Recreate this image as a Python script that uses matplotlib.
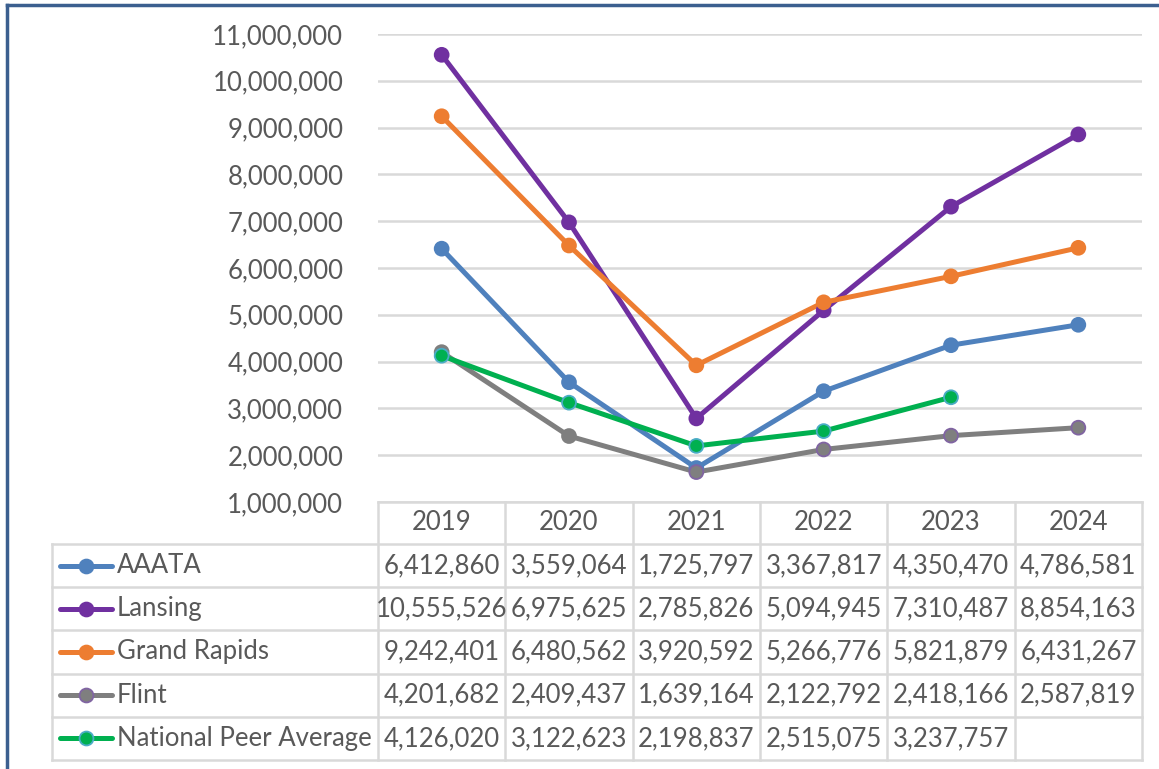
import numpy as np
import matplotlib.pyplot as plt
from matplotlib.transforms import blended_transform_factory
from matplotlib.ticker import FuncFormatter

plt.rcParams['font.family'] = ['Lato', 'DejaVu Sans']

years = ['2019', '2020', '2021', '2022', '2023', '2024']
series_names = ['AAATA', 'Lansing', 'Grand Rapids', 'Flint', 'National Peer Average']
aaata = [6412860, 3559064, 1725797, 3367817, 4350470, 4786581]
lansing = [10555526, 6975625, 2785826, 5094945, 7310487, 8854163]
grand_rapids = [9242401, 6480562, 3920592, 5266776, 5821879, 6431267]
flint = [4201682, 2409437, 1639164, 2122792, 2418166, 2587819]
peer_avg = [4126020, 3122623, 2198837, 2515075, 3237757, None]

all_values = [aaata, lansing, grand_rapids, flint, peer_avg]
line_colors = ['#4F81BD', '#7030A0', '#ED7D31', '#7F7F7F', '#00B050']
edge_colors = ['#4F81BD', '#7030A0', '#ED7D31', '#8064A2', '#4BACC6']

TEXT = '#595959'
GRID = '#D9D9D9'
FS = 18.5
LW = 3.6
MS = 10
W, H = 1159, 769

fig = plt.figure(figsize=(W / 100, H / 100), dpi=100)

# plot area in pixels: x 378..1142, y 34..502
left, right, top, bottom = 378, 1142, 34, 502
ax = fig.add_axes([left / W, 1 - bottom / H, (right - left) / W, (bottom - top) / H])
for k, (vals, lc, ec) in enumerate(zip(all_values, line_colors, edge_colors)):
    xs = [i for i, v in enumerate(vals) if v is not None]
    ys = [v for v in vals if v is not None]
    ax.plot(xs, ys, color=lc, lw=LW, solid_capstyle='round', zorder=3)
    # first two Flint markers keep the gray outline
    ecs = [lc if (k == 3 and i < 2) else ec for i in xs]
    ax.scatter(xs, ys, s=MS ** 2, c=lc, edgecolors=ecs, linewidths=1.3, zorder=4)

ax.set_xlim(-0.5, len(years) - 0.5)
ax.set_ylim(1_000_000, 11_000_000)
ax.set_yticks(np.arange(1_000_000, 11_000_001, 1_000_000))
ax.yaxis.set_major_formatter(FuncFormatter(lambda v, p: f'{int(v):,}'))
ax.tick_params(axis='y', length=0, pad=25, labelsize=FS, labelcolor=TEXT)
ax.set_xticks([])
ax.grid(axis='y', color=GRID, lw=1.8)
ax.set_axisbelow(True)
for s in ax.spines.values():
    s.set_visible(False)

# data table below the plot (x in data coords, y in figure pixels)
tr = blended_transform_factory(ax.transData, fig.transFigure)
trf = fig.transFigure


def fy(py):
    return 1 - py / H


def fx(px):
    return px / W


table_left = 52
header_top, header_bot = 502, 544
row_h = (760 - header_bot) / len(series_names)
row_edges = [header_bot + i * row_h for i in range(len(series_names) + 1)]

line_kw = dict(color=GRID, lw=1.8, zorder=1)
# horizontal lines
fig.add_artist(plt.Line2D([-0.5, len(years) - 0.5], [fy(header_top)] * 2, transform=tr, **line_kw))
for ry in row_edges:
    fig.add_artist(plt.Line2D([fx(table_left), fx(right)], [fy(ry)] * 2, transform=trf, **line_kw))
# vertical lines
for i in range(len(years) + 1):
    fig.add_artist(plt.Line2D([i - 0.5, i - 0.5], [fy(header_top), fy(760)], transform=tr, **line_kw))
fig.add_artist(plt.Line2D([fx(table_left)] * 2, [fy(header_bot), fy(760)], transform=trf, **line_kw))

for i, yr in enumerate(years):
    fig.text(i, fy((header_top + header_bot) / 2), yr, transform=tr, ha='center',
             va='center', fontsize=FS, color=TEXT)

for r, (name, vals, lc, ec) in enumerate(zip(series_names, all_values, line_colors, edge_colors)):
    cy = fy((row_edges[r] + row_edges[r + 1]) / 2)
    fig.add_artist(plt.Line2D([fx(60), fx(112)], [cy, cy], transform=trf, color=lc, lw=LW,
                              solid_capstyle='round', zorder=2))
    fig.add_artist(plt.Line2D([fx(86)], [cy], transform=trf, marker='o', ms=MS, mfc=lc,
                              mec=ec, mew=1.3, zorder=3))
    fig.text(fx(117), cy, name, transform=trf, ha='left', va='center', fontsize=FS, color=TEXT)
    for i, v in enumerate(vals):
        if v is not None:
            fig.text(i, cy, f'{v:,}', transform=tr, ha='center', va='center',
                     fontsize=FS, color=TEXT)

# outer frame (top and left edges visible)
frame_kw = dict(color='#3B5F8F', lw=2.5, transform=trf, zorder=5)
fig.add_artist(plt.Line2D([fx(7), 1], [fy(4.5), fy(4.5)], **frame_kw))
fig.add_artist(plt.Line2D([fx(7), fx(7)], [fy(4.5), 0], **frame_kw))

fig.savefig('out.png', dpi=100)
